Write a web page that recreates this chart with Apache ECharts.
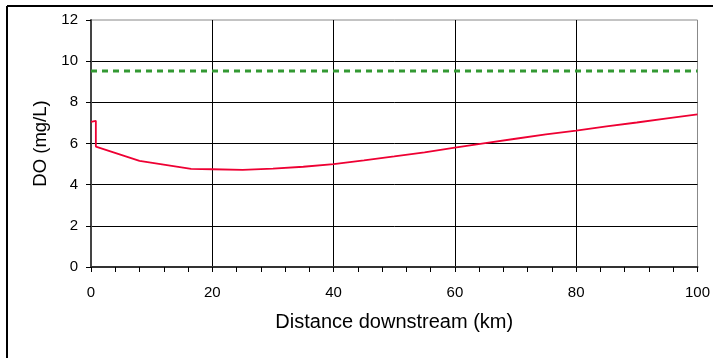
<!DOCTYPE html>
<html>
<head>
<meta charset="utf-8">
<script src="https://cdn.jsdelivr.net/npm/echarts@6/dist/echarts.min.js"></script>
<style>
  html, body { margin: 0; padding: 0; background: #fff; }
  #chart { width: 713px; height: 358px; }
</style>
</head>
<body>
<div id="chart"></div>
<script>
// distance downstream (km) and dissolved oxygen (mg/L)
const distKm = [0, 0.8, 0.8, 8, 16.5, 20, 25, 30, 35, 40, 45, 50, 55, 60, 65, 70, 75, 80, 85, 90, 95, 100]
const doVals = [7.05, 7.1, 5.85, 5.16, 4.77, 4.75, 4.72, 4.78, 4.87, 5.0, 5.18, 5.37, 5.57, 5.8, 6.02, 6.23, 6.44, 6.63, 6.83, 7.02, 7.22, 7.41]
// saturation level
const satKm = [0, 100]
const satVal = [9.52, 9.52]

const xTicks = [0, 20, 40, 60, 80, 100]
const yTicks = [0, 2, 4, 6, 8, 10, 12]

const toPairs = (xs, ys) => xs.map((x, i) => [x, ys[i]])

const chart = echarts.init(document.getElementById('chart'))
chart.setOption({
    animation: false,
    grid: {
        left: 91, right: 14, top: 20, bottom: 91,
        show: true, borderColor: '#888', borderWidth: 1
    },
    graphic: [
        { type: 'line', shape: { x1: 7, y1: 6, x2: 713, y2: 6 }, style: { stroke: '#000', lineWidth: 2 } },
        { type: 'line', shape: { x1: 7, y1: 6, x2: 7, y2: 358 }, style: { stroke: '#000', lineWidth: 2 } }
    ],
    xAxis: {
        type: 'value',
        min: xTicks[0], max: xTicks[xTicks.length - 1], interval: 20,
        name: 'Distance downstream (km)',
        nameLocation: 'middle', nameGap: 45,
        nameTextStyle: { fontFamily: 'Liberation Sans', fontSize: 20, color: '#000' },
        axisLine: { onZero: false, lineStyle: { color: '#333', width: 2 } },
        axisTick: { length: 5, lineStyle: { color: '#000' } },
        minorTick: { show: true, splitNumber: 5, length: 5, lineStyle: { color: '#000' } },
        axisLabel: { margin: 18, fontFamily: 'Liberation Sans', fontSize: 15, color: '#000' },
        splitLine: { show: true, showMinLine: false, showMaxLine: false, lineStyle: { color: '#000', width: 1 } }
    },
    yAxis: {
        type: 'value',
        min: yTicks[0], max: yTicks[yTicks.length - 1], interval: 2,
        name: 'DO (mg/L)',
        nameLocation: 'middle', nameGap: 41,
        nameTextStyle: { fontFamily: 'Liberation Sans', fontSize: 18.5, color: '#000' },
        axisLine: { lineStyle: { color: '#444', width: 2 } },
        axisTick: { length: 5, lineStyle: { color: '#000' } },
        axisLabel: { margin: 13, fontFamily: 'Liberation Sans', fontSize: 15, color: '#000' },
        splitLine: { show: true, showMinLine: false, showMaxLine: false, lineStyle: { color: '#000', width: 1 } }
    },
    series: [
        {
            type: 'line',
            data: toPairs(satKm, satVal),
            symbol: 'none',
            lineStyle: { color: '#339933', width: 3, type: [6, 5] }
        },
        {
            type: 'line',
            data: toPairs(distKm, doVals),
            symbol: 'none',
            smooth: false,
            lineStyle: { color: '#ee0033', width: 1.8 }
        }
    ]
})
</script>
</body>
</html>
